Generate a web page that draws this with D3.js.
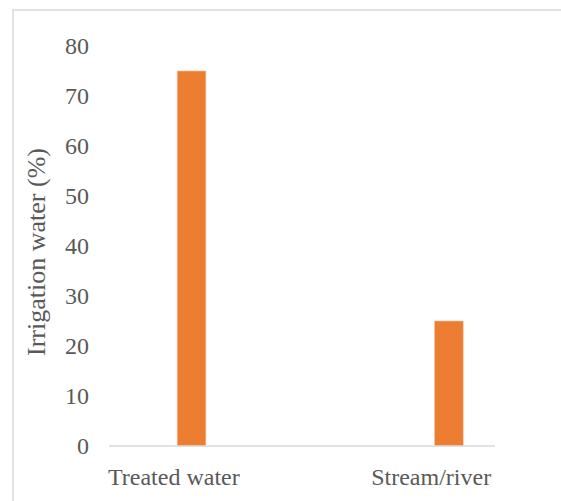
<!DOCTYPE html>
<html>
<head>
<meta charset="utf-8">
<script src="https://cdn.jsdelivr.net/npm/d3@7"></script>
<style>
  html, body { margin: 0; padding: 0; background: #fff; }
  svg { display: block; }
  text { font-family: "Liberation Serif", "Times New Roman", serif; fill: #595959; }
</style>
</head>
<body>
<script>
// Share of irrigation water by source
const categories = ["Treated water", "Stream/river"];
const values = [75, 25];
const yTicks = [0, 10, 20, 30, 40, 50, 60, 70, 80];
const yTitle = "Irrigation water (%)";

const W = 561, H = 501;
const plot = { left: 109, right: 495, top: 46, bottom: 446 };

const svg = d3.select("body").append("svg")
  .attr("width", W).attr("height", H);

// chart frame
svg.append("rect")
  .attr("x", 13).attr("y", 10)
  .attr("width", W + 20).attr("height", H + 20)
  .attr("fill", "none")
  .attr("stroke", "#d9d9d9")
  .attr("stroke-width", 1.5);

const x = d3.scalePoint()
  .domain(categories)
  .range([plot.left, plot.right])
  .padding(0.25);

const y = d3.scaleLinear()
  .domain([0, 80])
  .range([plot.bottom, plot.top]);

const step = x.step();
const barW = step * 0.1115;
const barShift = step * 0.0707;

// y axis labels
const yAxis = d3.axisLeft(y)
  .tickValues(yTicks)
  .tickSize(0)
  .tickPadding(20)
  .tickFormat(d3.format("d"));

const gy = svg.append("g")
  .attr("transform", `translate(${plot.left},0)`)
  .call(yAxis);
gy.select(".domain").remove();
gy.selectAll("text")
  .style("font-family", "'Liberation Serif', 'Times New Roman', serif")
  .style("font-size", "24px")
  .attr("fill", "#595959");

// bars
svg.append("g")
  .selectAll("rect")
  .data(categories.map((c, i) => ({ c, v: values[i] })))
  .join("rect")
  .attr("x", d => x(d.c) + barShift - barW / 2)
  .attr("y", d => y(d.v))
  .attr("width", barW)
  .attr("height", d => y(0) - y(d.v))
  .attr("fill", "#ED7D31")
  .attr("stroke", "#f6c4a3")
  .attr("stroke-width", 0.6);

// category axis line
svg.append("line")
  .attr("x1", plot.left).attr("x2", plot.right)
  .attr("y1", y(0)).attr("y2", y(0))
  .attr("stroke", "#d9d9d9")
  .attr("stroke-width", 1.5);

// category axis labels
const xAxis = d3.axisBottom(x).tickSize(0).tickPadding(22);
const gx = svg.append("g")
  .attr("transform", `translate(0,${y(0)})`)
  .call(xAxis);
gx.select(".domain").remove();
gx.selectAll("text")
  .style("font-family", "'Liberation Serif', 'Times New Roman', serif")
  .style("font-size", "24px")
  .attr("fill", "#595959");

// y axis title
svg.append("text")
  .attr("transform", `translate(45,252) rotate(-90)`)
  .attr("text-anchor", "middle")
  .style("font-size", "26px")
  .text(yTitle);
</script>
</body>
</html>
